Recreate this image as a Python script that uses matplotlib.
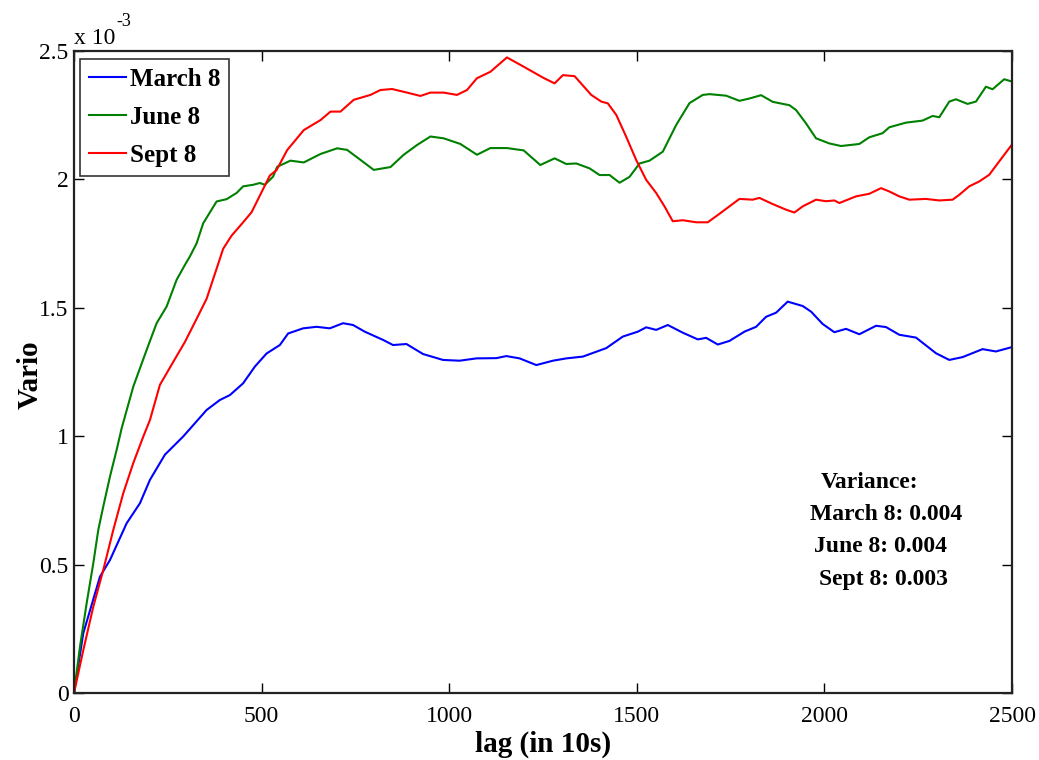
import matplotlib
matplotlib.use("Agg")
import matplotlib.pyplot as plt

plt.rcParams['font.family'] = ['Liberation Serif', 'DejaVu Serif']

SCALE = 1e-3  # values below are in units of 1e-3

march_lag = [0, 24.8, 69.2, 95.9, 140.3, 175.8, 202.4, 242.3, 291.1, 326.8, 353.4, 388.8, 415.4,
             450.8, 482.0, 513.2, 548.6, 570.7, 610.6, 646.3, 681.7, 717.2, 743.8, 775.0, 823.7,
             850.3, 886.0, 930.2, 983.4, 1027.9, 1072.4, 1125.6, 1152.3, 1187.7, 1232.2, 1276.4,
             1312.1, 1356.3, 1418.6, 1462.8, 1502.7, 1525.1, 1551.7, 1582.6, 1622.6, 1662.5,
             1684.9, 1715.8, 1746.9, 1786.8, 1818.0, 1844.6, 1871.3, 1902.1, 1942.1, 1964.5,
             1995.4, 2026.5, 2057.7, 2093.1, 2137.6, 2164.2, 2199.6, 2244.1, 2297.4, 2332.8,
             2368.3, 2421.5, 2457.2, 2500]
march_val = [0, 0.233, 0.453, 0.518, 0.661, 0.739, 0.830, 0.928, 0.999, 1.058, 1.102, 1.141, 1.160,
             1.206, 1.271, 1.322, 1.355, 1.400, 1.420, 1.426, 1.420, 1.440, 1.433, 1.407, 1.375,
             1.355, 1.359, 1.320, 1.297, 1.294, 1.303, 1.304, 1.312, 1.303, 1.277, 1.294,
             1.303, 1.310, 1.343, 1.388, 1.407, 1.424, 1.414, 1.433, 1.403, 1.377,
             1.383, 1.357, 1.371, 1.407, 1.426, 1.465, 1.481, 1.524, 1.507, 1.485,
             1.437, 1.405, 1.418, 1.397, 1.430, 1.425, 1.395, 1.384, 1.323, 1.297,
             1.308, 1.339, 1.330, 1.347]

june_lag = [0, 16.0, 33.8, 51.4, 64.7, 78.0, 95.9, 113.7, 127.0, 158.0, 193.6, 220.2, 246.9, 273.5,
            295.6, 308.9, 326.8, 344.3, 380.0, 406.6, 433.2, 450.8, 477.5, 495.3, 508.6, 530.7,
            541.4, 576.9, 612.4, 657.0, 701.2, 727.8, 763.5, 798.9, 843.4, 878.8, 914.3, 949.9,
            985.3, 1029.8, 1074.0, 1109.7, 1153.9, 1198.4, 1242.8, 1280.9, 1312.1, 1338.7,
            1374.1, 1400.8, 1427.4, 1454.0, 1480.7, 1507.3, 1533.9, 1569.3, 1605.0, 1640.4,
            1675.8, 1693.7, 1738.1, 1773.5, 1800.2, 1831.3, 1862.2, 1906.7, 1924.5, 1951.1,
            1977.7, 2013.2, 2044.4, 2093.1, 2119.7, 2155.2, 2173.0, 2217.4, 2261.7, 2288.3,
            2306.2, 2332.8, 2350.6, 2381.5, 2403.9, 2430.5, 2448.1, 2479.2, 2500]
june_val = [0, 0.181, 0.350, 0.505, 0.635, 0.726, 0.843, 0.947, 1.031, 1.193, 1.336, 1.440, 1.505, 1.609,
            1.667, 1.700, 1.751, 1.829, 1.914, 1.923, 1.947, 1.973, 1.979, 1.986, 1.979, 2.011,
            2.049, 2.073, 2.066, 2.099, 2.121, 2.115, 2.076, 2.037, 2.048, 2.096, 2.134, 2.167,
            2.160, 2.138, 2.096, 2.122, 2.122, 2.113, 2.056, 2.082, 2.060, 2.062,
            2.043, 2.017, 2.017, 1.987, 2.010, 2.062, 2.073, 2.108, 2.212, 2.297,
            2.329, 2.332, 2.326, 2.306, 2.315, 2.328, 2.302, 2.289, 2.270, 2.218,
            2.160, 2.140, 2.130, 2.138, 2.164, 2.180, 2.203, 2.221, 2.229, 2.247,
            2.242, 2.303, 2.312, 2.294, 2.303, 2.361, 2.351, 2.390, 2.381]

sept_lag = [0, 24.8, 51.4, 78.0, 104.7, 131.3, 157.9, 184.5, 202.4, 229.0, 264.4, 295.6, 326.8,
            353.4, 380.0, 397.6, 420.0, 450.8, 473.2, 499.8, 521.9, 539.8, 568.1, 612.4, 657.0,
            683.6, 710.2, 745.6, 790.1, 816.7, 847.6, 887.6, 923.3, 949.9, 985.3, 1020.8,
            1047.4, 1074.0, 1109.7, 1153.9, 1198.4, 1251.6, 1280.9, 1303.0, 1334.2, 1378.6,
            1405.3, 1422.9, 1445.3, 1471.8, 1498.5, 1525.1, 1551.7, 1573.8, 1595.9, 1622.6,
            1658.3, 1689.1, 1720.3, 1746.9, 1773.5, 1809.0, 1826.8, 1862.2, 1897.9, 1920.0,
            1942.1, 1977.7, 2004.3, 2026.5, 2039.8, 2084.3, 2119.7, 2150.9, 2173.0, 2199.6,
            2226.3, 2270.8, 2306.2, 2341.6, 2359.4, 2386.1, 2412.7, 2439.3, 2465.9, 2500]
sept_val = [0, 0.167, 0.336, 0.479, 0.635, 0.778, 0.895, 0.998, 1.063, 1.200, 1.289, 1.367, 1.457,
            1.535, 1.652, 1.730, 1.781, 1.833, 1.872, 1.950, 2.015, 2.036, 2.114, 2.192, 2.231,
            2.264, 2.264, 2.310, 2.329, 2.348, 2.352, 2.338, 2.325, 2.338, 2.338, 2.329,
            2.348, 2.394, 2.419, 2.475, 2.439, 2.395, 2.374, 2.406, 2.402, 2.329,
            2.303, 2.296, 2.251, 2.166, 2.075, 1.998, 1.947, 1.895, 1.837, 1.841,
            1.833, 1.833, 1.866, 1.895, 1.924, 1.921, 1.928, 1.904, 1.882, 1.871,
            1.895, 1.921, 1.915, 1.918, 1.908, 1.934, 1.944, 1.966, 1.953, 1.934,
            1.921, 1.924, 1.918, 1.921, 1.940, 1.973, 1.992, 2.018, 2.070, 2.136]

series_names = ['March 8', 'June 8', 'Sept 8']
series_colors = ['#0000FF', '#008000', '#FF0000']
x_ticks = [0, 500, 1000, 1500, 2000, 2500]
y_ticks = [0, 0.5, 1, 1.5, 2, 2.5]
variance_lines = ['Variance:', 'March 8: 0.004', 'June 8: 0.004', 'Sept 8: 0.003']

W, H = 1039, 760
fig = plt.figure(figsize=(W / 100, H / 100), dpi=100)
ax = fig.add_axes([74 / W, 1 - 693 / H, (1012 - 74) / W, (693 - 51) / H])

for lag, val, name, col in zip([march_lag, june_lag, sept_lag],
                               [march_val, june_val, sept_val],
                               series_names, series_colors):
    ax.plot(lag, [v * SCALE for v in val], color=col, lw=1.5, label=name)

ax.set_xlim(0, 2500)
ax.set_ylim(0, 2.5 * SCALE)
ax.set_xticks(x_ticks)
ax.set_yticks([v * SCALE for v in y_ticks])
ax.set_xticklabels([str(t) for t in x_ticks])
ax.set_yticklabels(['%g' % t for t in y_ticks])
ax.tick_params(direction='in', length=7, width=1, top=True, right=True,
               labelsize=17, pad=4, colors='black')
ax.tick_params(axis='x', pad=9)
for s in ax.spines.values():
    s.set_linewidth(1.6)
    s.set_color('#222222')

ax.set_xlabel('lag (in 10s)', fontsize=21, fontweight='bold')
ax.set_ylabel('Vario', fontsize=21, fontweight='bold')
ax.xaxis.set_label_coords((543 - 74) / 938, -(744 - 693) / 642)
ax.yaxis.set_label_coords(-(74 - 30) / 938, (693 - 375) / 642)
ax.xaxis.label.set_va('center')
ax.yaxis.label.set_va('center')

leg = ax.legend(loc='upper left', bbox_to_anchor=(6 / 938, 1 - 8 / 642),
                prop={'size': 18, 'weight': 'bold'}, frameon=True, fancybox=False,
                handlelength=1.5, handletextpad=0.15, borderpad=0.35, labelspacing=0.6,
                borderaxespad=0)
leg.get_frame().set_edgecolor('black')
leg.get_frame().set_linewidth(1.2)

# exponent label
fig.text(74 / W, 1 - 38 / H, 'x 10', fontsize=17, ha='left', va='center')
fig.text(116 / W, 1 - 21 / H, '-3', fontsize=13, ha='left', va='center')

# variance annotation
centers = [870, 886, 881, 883]
ys = [482, 514, 547, 580]
for txt, cx, cy in zip(variance_lines, centers, ys):
    fig.text(cx / W, 1 - cy / H, txt, fontsize=17, fontweight='bold', ha='center', va='center')

fig.savefig('out.png', dpi=100)
